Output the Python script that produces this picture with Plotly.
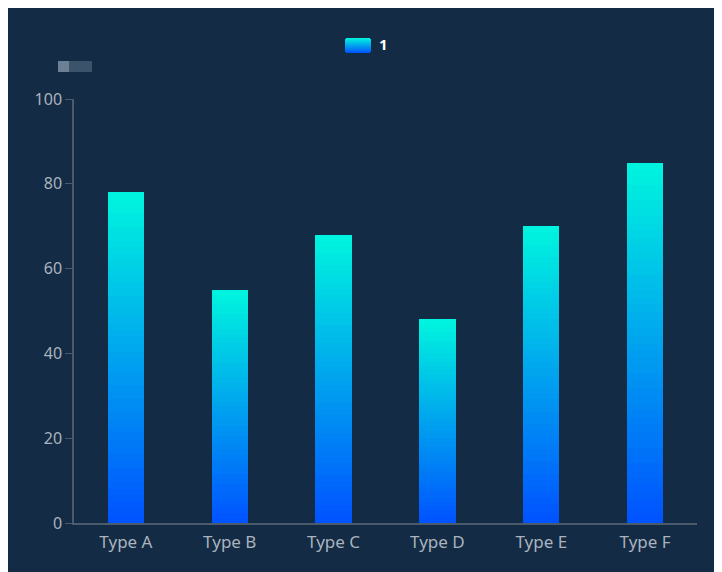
import plotly.graph_objects as go

categories = ["Type A", "Type B", "Type C", "Type D", "Type E", "Type F"]
values = [78, 55, 68, 48, 70, 85]
series_name = "1"
y_ticks = [0, 20, 40, 60, 80, 100]

BG = "#132b44"
TOP = (0, 245, 222)
BOT = (0, 82, 255)
N = 48

# plot-area pixel geometry (for decorative paper-coord shapes)
PL, PW, PB, PH = 74, 623, 523, 424


def px(x):
    return (x - PL) / PW


def py(y):
    return (PB - y) / PH


def mix(t):
    r = round(BOT[0] + (TOP[0] - BOT[0]) * t)
    g = round(BOT[1] + (TOP[1] - BOT[1]) * t)
    b = round(BOT[2] + (TOP[2] - BOT[2]) * t)
    return f"rgb({r},{g},{b})"


fig = go.Figure()
for k in range(N):
    t = (k + 0.5) / N
    fig.add_trace(go.Bar(
        x=categories,
        y=[v / N for v in values],
        name=series_name,
        marker=dict(color=mix(t), line=dict(width=0)),
        showlegend=False,
        hoverinfo="skip",
    ))

shapes = [
    dict(type="rect", xref="paper", yref="paper",
         x0=px(58), x1=px(69), y0=py(72), y1=py(61),
         fillcolor="#6b7f95", line=dict(width=0)),
    dict(type="rect", xref="paper", yref="paper",
         x0=px(69), x1=px(92), y0=py(72), y1=py(61),
         fillcolor="#3b536b", line=dict(width=0)),
]
# legend icon: vertical gradient rounded rectangle
top_y, bot_y = 38, 53
rows = bot_y - top_y
for i in range(rows):
    inset = 1 if i in (0, rows - 1) else 0
    t = 1 - (i + 0.5) / rows
    shapes.append(dict(type="rect", xref="paper", yref="paper",
                       x0=px(345 + inset), x1=px(371 - inset),
                       y0=py(top_y + i + 1), y1=py(top_y + i),
                       fillcolor=mix(t), line=dict(width=0)))

fig.update_layout(
    width=714, height=566,
    barmode="stack", bargap=0.65,
    paper_bgcolor=BG, plot_bgcolor=BG,
    margin=dict(l=66, r=25, t=91, b=51),
    font=dict(family="Noto Sans, Open Sans, sans-serif", color="#aab3be", size=16),
    showlegend=False,
    xaxis=dict(showgrid=False, showline=True, linecolor="#4b5b6c", linewidth=1.5,
               ticks="", zeroline=False, ticklabelstandoff=3,
               tickfont=dict(size=17, color="#aab3be")),
    yaxis=dict(range=[0, 100], tickvals=y_ticks, showgrid=False, showline=True,
               linecolor="#4b5b6c", linewidth=1.5, ticks="outside", ticklen=7,
               tickcolor="#4b5b6c", zeroline=False,
               tickfont=dict(size=16, color="#aab3be")),
    shapes=shapes,
    annotations=[dict(text=f"<b>{series_name}</b>", xref="paper", yref="paper",
                      x=px(377), y=py(44), xanchor="left", yanchor="middle",
                      showarrow=False, font=dict(size=15, color="#ffffff"))],
)

fig.write_html("out.html")
